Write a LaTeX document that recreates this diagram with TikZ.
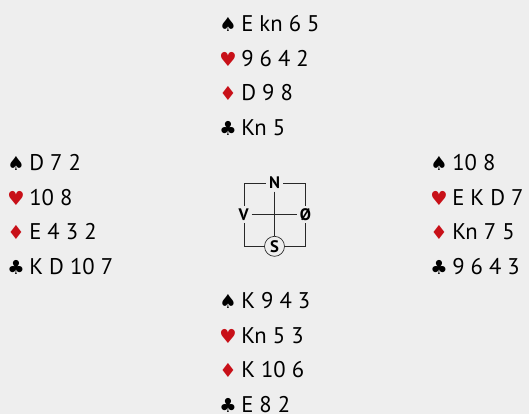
\documentclass[tikz,border=0pt]{standalone}
\usepackage{fontspec}
\setmainfont{PT Sans}
\newfontfamily\suitfont{DejaVu Sans}
\usetikzlibrary{positioning}
\definecolor{bggray}{RGB}{238,238,238}
\definecolor{suitred}{RGB}{200,16,24}
\definecolor{linegray}{RGB}{40,40,40}

% one hand: name, x of the cards, baseline of the first row, rows
\newcommand{\handrows}[4]{%
  \foreach \sym/\col/\crd [count=\i from 0] in {#4} {
    \node[suit, text=\col] (#1-s\i) at (#2-13, #3+34.7*\i) {\sym};
    \node[cards] (#1-c\i) at (#2, #3+34.7*\i) {\crd};
  }}

\begin{document}
\begin{tikzpicture}[
        x=0.75pt, y=-0.75pt,
        suit/.style={anchor=base, inner sep=0pt, font=\suitfont\fontsize{14.5}{14.5}\selectfont},
        cards/.style={anchor=base west, inner sep=0pt, font=\fontsize{17}{17}\selectfont},
        compass/.style={draw=linegray, line width=0.5pt, minimum width=45.75pt, minimum height=47.25pt, inner sep=0pt},
        wind/.style={fill=bggray, inner sep=2pt, font=\bfseries\fontsize{12.5}{12.5}\selectfont},
        seat/.style={circle, draw=linegray, line width=0.5pt, fill=bggray, minimum size=15pt, inner sep=0pt, font=\bfseries\fontsize{12.5}{12.5}\selectfont},
        link/.style={draw=linegray, line width=0.5pt}
    ]
        \fill[bggray] (0,0) rectangle (529,414);
        \useasboundingbox (0,0) rectangle (529,414);

        \handrows{N}{241}{31.5}{♠/black/E kn 6 5, ♥/suitred/9 6 4 2, ♦/suitred/D 9 8, ♣/black/Kn 5}
        \handrows{W}{29}{170.3}{♠/black/D 7 2, ♥/suitred/10 8, ♦/suitred/E 4 3 2, ♣/black/K D 10 7}
        \handrows{E}{452}{170.3}{♠/black/10 8, ♥/suitred/E K D 7, ♦/suitred/Kn 7 5, ♣/black/9 6 4 3}
        \handrows{S}{241}{308.5}{♠/black/K 9 4 3, ♥/suitred/Kn 5 3, ♦/suitred/K 10 6, ♣/black/E 8 2}

        \node[compass] (box) at (274.5,214.5) {};
        \node[wind] (north) at (box.north) {N};
        \node[wind] (west) at (box.west) {V};
        \node[wind] (east) at (box.east) {Ø};
        \node[seat] (south) at (box.south) {S};

        \draw[link] (north) -- (south);
        \draw[link] (west) -- (east);
    \end{tikzpicture}
\end{document}
